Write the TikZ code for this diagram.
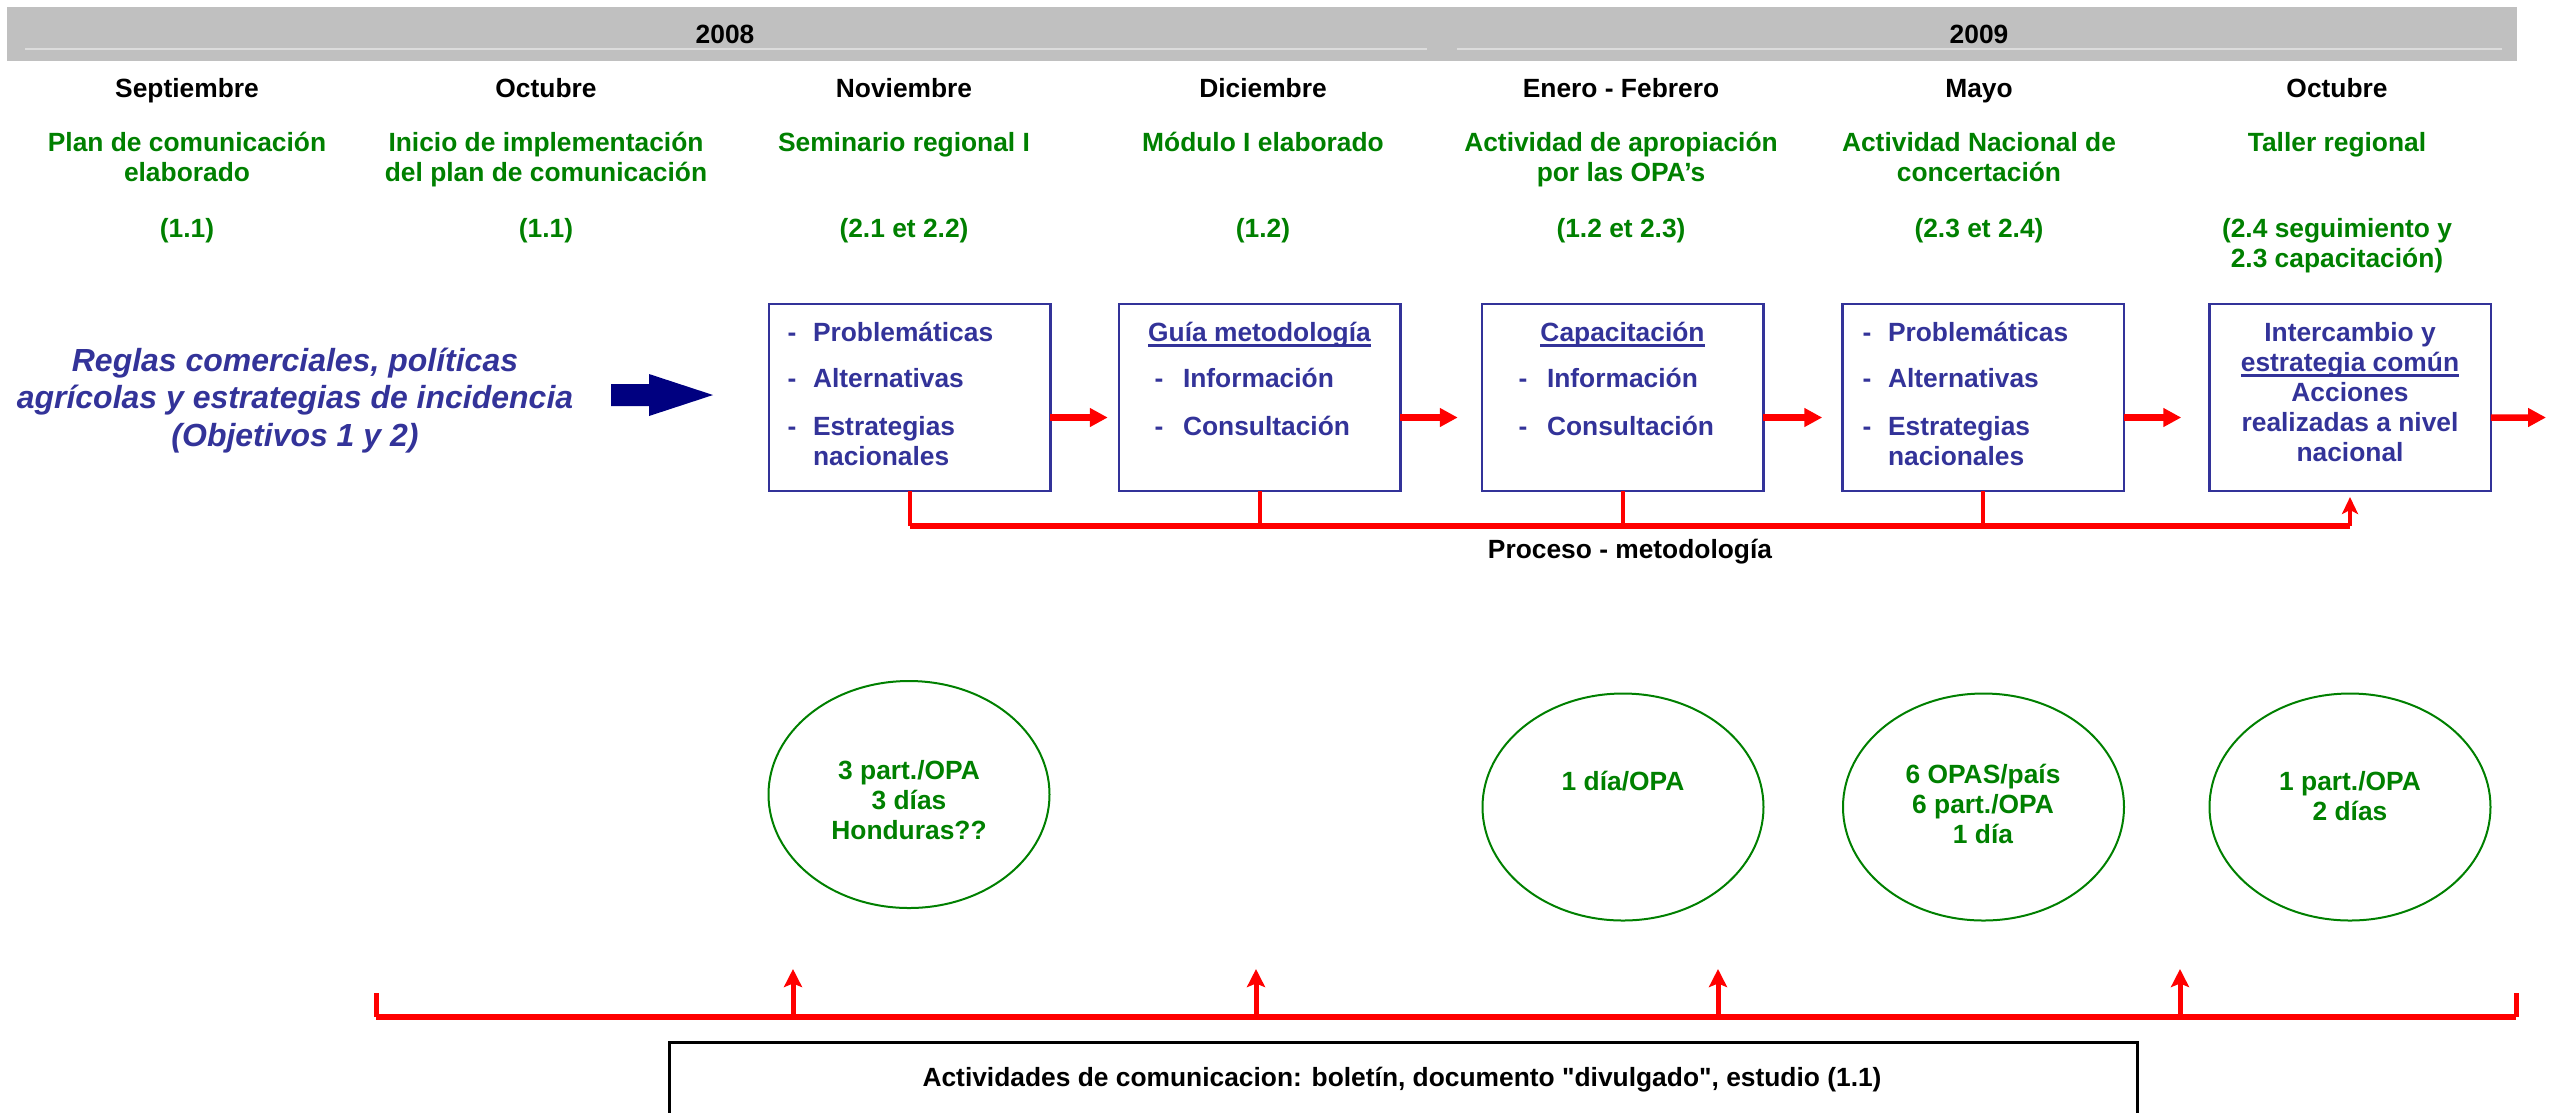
\documentclass[tikz,border=0pt]{standalone}
\usepackage{fontspec}
\setmainfont{Liberation Sans}
% same family without the TeX ligature mapping, so that " stays a straight quote
\newfontfamily\rawsans{Liberation Sans}
\usetikzlibrary{arrows.meta,shapes.geometric}
\definecolor{barfill}{HTML}{C0C0C0}
\definecolor{barline}{HTML}{DCDCDC}
\definecolor{txtgreen}{HTML}{008000}
\definecolor{txtblue}{HTML}{333399}
\definecolor{arrnavy}{HTML}{000080}
\definecolor{linered}{HTML}{FF0000}
\newsavebox\ulinebox
\newcommand\ulined[1]{\sbox\ulinebox{#1}\rlap{\rule[-3.3pt]{\wd\ulinebox}{1.4pt}}\usebox\ulinebox}
\begin{document}
\begin{tikzpicture}[x=0.2mm,y=-0.2mm,
  txtbase/.style={inner sep=0pt, outer sep=0pt, font=\bfseries\fontsize{15}{17.07}\selectfont},
  oneline/.style={txtbase, anchor=base},
  gtitle/.style={txtbase, text=txtgreen, align=center, anchor=north},
  stepbox/.style={draw=txtblue, line width=0.5mm, minimum width=56.3mm, minimum height=37.4mm, inner sep=0pt, outer sep=0pt},
  btext/.style={txtbase, text=txtblue, anchor=base west},
  bdash/.style={txtbase, text=txtblue, anchor=base},
  bhead/.style={txtbase, text=txtblue, anchor=base},
  bmulti/.style={txtbase, text=txtblue, anchor=north west, align=left},
  oval/.style={ellipse, draw=txtgreen, line width=0.4mm, minimum width=56.2mm, minimum height=45.4mm, inner sep=0pt},
  flow/.style={draw=linered, line width=1.3mm, -{Triangle[length=3.6mm,width=3.6mm]}},
  drop/.style={draw=linered, line width=0.8mm},
  rail/.style={draw=linered, line width=1.2mm},
  riser/.style={draw=linered, line width=0.8mm, -{Stealth[length=3.4mm,width=3.2mm,inset=0.8mm]}},
  uprise/.style={draw=linered, line width=1mm, -{Stealth[length=3.6mm,width=3.6mm,inset=0.7mm]}}
]
\useasboundingbox (0,0) rectangle (2556,1112);

% year bar
\fill[barfill] (7,7) rectangle (2517,61);
\draw[barline, line width=0.25mm] (25,49) -- (1427,49);
\draw[barline, line width=0.25mm] (1457,49) -- (2502,49);
\node[oneline] (y08) at (725,43) {2008};
\node[oneline] (y09) at (1979,43) {2009};

% months
\node[oneline] (m1) at (187,97) {Septiembre};
\node[oneline] (m2) at (546,97) {Octubre};
\node[oneline] (m3) at (904,97) {Noviembre};
\node[oneline] (m4) at (1263,97) {Diciembre};
\node[oneline] (m5) at (1621,97) {Enero - Febrero};
\node[oneline] (m6) at (1979,97) {Mayo};
\node[oneline] (m7) at (2337,97) {Octubre};

% activity titles
\node[gtitle] (t1) at (187,130) {\strut Plan de comunicación\\elaborado};
\node[gtitle] (t2) at (546,130) {\strut Inicio de implementación\\del plan de comunicación};
\node[gtitle] (t3) at (904,130) {\strut Seminario regional I};
\node[gtitle] (t4) at (1263,130) {\strut Módulo I elaborado};
\node[gtitle] (t5) at (1621,130) {\strut Actividad de apropiación\\por las OPA’s};
\node[gtitle] (t6) at (1979,130) {\strut Actividad Nacional de\\concertación};
\node[gtitle] (t7) at (2337,130) {\strut Taller regional};

% result references
\node[gtitle] (r1) at (187,216) {\strut (1.1)};
\node[gtitle] (r2) at (546,216) {\strut (1.1)};
\node[gtitle] (r3) at (904,216) {\strut (2.1 et 2.2)};
\node[gtitle] (r4) at (1263,216) {\strut (1.2)};
\node[gtitle] (r5) at (1621,216) {\strut (1.2 et 2.3)};
\node[gtitle] (r6) at (1979,216) {\strut (2.3 et 2.4)};
\node[gtitle] (r7) at (2337,216) {\strut (2.4 seguimiento y\\2.3 capacitación)};

% theme and arrow
\node[inner sep=0pt, outer sep=0pt, anchor=north, align=center, text=txtblue,
      font=\bfseries\itshape\fontsize{18.2}{21.3}\selectfont] (theme) at (295,345)
  {\strut Reglas comerciales, políticas\\agrícolas y estrategias de incidencia\\(Objetivos 1 y 2)};
\fill[arrnavy] (611,384) -- (649,384) -- (649,374) -- (713,395) -- (649,416) -- (649,406) -- (611,406) -- cycle;

% process boxes
\node[stepbox] (b1) at (909.5,397.5) {};
\node[stepbox] (b2) at (1259.5,397.5) {};
\node[stepbox] (b3) at (1622.5,397.5) {};
\node[stepbox] (b4) at (1983,397.5) {};
\node[stepbox] (b5) at (2350,397.5) {};

% box 1
\node[bdash] (b1d1) at (792,341) {-};
\node[bdash] (b1d2) at (792,387) {-};
\node[bdash] (b1d3) at (792,435) {-};
\node[btext] (b1i1) at (813,341) {Problemáticas};
\node[btext] (b1i2) at (813,387) {Alternativas};
\node[bmulti] (b1i3) at (813,414) {\strut Estrategias\\nacionales};
% box 2
\node[bhead] (b2h) at (1259.5,341) {\ulined{Guía metodología}};
\node[bdash] (b2d1) at (1159,387) {-};
\node[bdash] (b2d2) at (1159,435) {-};
\node[btext] (b2i1) at (1183,387) {Información};
\node[btext] (b2i2) at (1183,435) {Consultación};
% box 3
\node[bhead] (b3h) at (1622.5,341) {\ulined{Capacitación}};
\node[bdash] (b3d1) at (1523,387) {-};
\node[bdash] (b3d2) at (1523,435) {-};
\node[btext] (b3i1) at (1547,387) {Información};
\node[btext] (b3i2) at (1547,435) {Consultación};
% box 4
\node[bdash] (b4d1) at (1867,341) {-};
\node[bdash] (b4d2) at (1867,387) {-};
\node[bdash] (b4d3) at (1867,435) {-};
\node[btext] (b4i1) at (1888,341) {Problemáticas};
\node[btext] (b4i2) at (1888,387) {Alternativas};
\node[bmulti] (b4i3) at (1888,414) {\strut Estrategias\\nacionales};
% box 5
\node[txtbase, text=txtblue, anchor=north, align=center] (b5t) at (2350,320)
  {\strut Intercambio y\\\ulined{estrategia común}\\Acciones\\realizadas a nivel\\nacional};

% flow arrows between boxes
\coordinate (fend) at (2546,417.5);
\draw[flow] ([yshift=-4mm]b1.east) -- ([yshift=-4mm,xshift=-2.2mm]b2.west);
\draw[flow] ([yshift=-4mm]b2.east) -- ([yshift=-4mm,xshift=-4.8mm]b3.west);
\draw[flow] ([yshift=-4mm]b3.east) -- ([yshift=-4mm,xshift=-4mm]b4.west);
\draw[flow] ([yshift=-4mm]b4.east) -- ([yshift=-4mm,xshift=-5.6mm]b5.west);
\draw[flow] ([yshift=-4mm]b5.east) -- (fend);

% methodology bracket
\coordinate (pl) at (909.5,526);
\coordinate (pr) at (2350,526);
\draw[drop] (b1.south) -- (b1.south |- pl);
\draw[drop] (b2.south) -- (b2.south |- pl);
\draw[drop] (b3.south) -- (b3.south |- pl);
\draw[drop] (b4.south) -- (b4.south |- pl);
\draw[rail] (pl) -- (pr);
\draw[riser] (pr) -- ([yshift=-1.2mm]b5.south);
\node[oneline] (proc) at (1630,558) {Proceso - metodología};

% participation ovals
\node[oval] (e1) at (909,794.5) {};
\node[oval] (e2) at (1623,807) {};
\node[oval] (e3) at (1983.5,807) {};
\node[oval] (e4) at (2350,807) {};
\node[gtitle] (e1t) at (909,758) {\strut 3 part./OPA\\3 días\\Honduras??};
\node[txtbase, text=txtgreen, anchor=base] (e2t) at (1623,790) {1 día/OPA};
\node[gtitle] (e3t) at (1983,762) {\strut 6 OPAS/país\\6 part./OPA\\1 día};
\node[gtitle] (e4t) at (2350,769) {\strut 1 part./OPA\\2 días};

% communication bracket
\coordinate (cl) at (376,1017);
\coordinate (cr) at (2516,1017);
\coordinate (cltop) at (376,993);
\coordinate (crtop) at (2516,993);
\draw[rail, line width=1.1mm] (cl) -- (cr);
\draw[drop, line width=1mm] (cl) -- (cltop);
\draw[drop, line width=1mm] (cr) -- (crtop);
\coordinate (a1) at (793,1017);  \coordinate (a1t) at (793,969);
\coordinate (a2) at (1256,1017); \coordinate (a2t) at (1256,969);
\coordinate (a3) at (1718,1017); \coordinate (a3t) at (1718,969);
\coordinate (a4) at (2180,1017); \coordinate (a4t) at (2180,969);
\draw[uprise] (a1) -- (a1t);
\draw[uprise] (a2) -- (a2t);
\draw[uprise] (a3) -- (a3t);
\draw[uprise] (a4) -- (a4t);

% communication activities
\node[draw, line width=0.55mm, anchor=north west, minimum width=293.6mm, minimum height=20mm, inner sep=0pt] (comm) at (668,1041) {};
\node[oneline, font=\rawsans\bfseries\fontsize{15}{17.07}\selectfont] (commt) at (1402,1086) {Actividades de comunicacion: boletín, documento "divulgado", estudio (1.1)};
\end{tikzpicture}
\end{document}
